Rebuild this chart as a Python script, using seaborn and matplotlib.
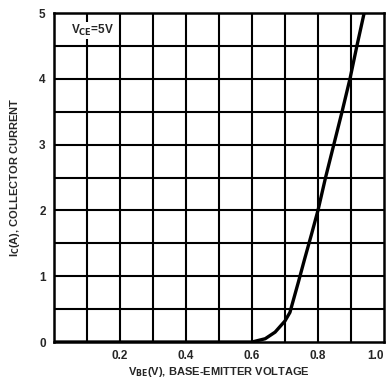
import matplotlib
matplotlib.use("Agg")
import matplotlib.pyplot as plt
import seaborn as sns
import pandas as pd
import numpy as np

# Data
vbe = [0.0, 0.60, 0.64, 0.67, 0.70, 0.715, 0.74, 0.76, 0.78, 0.80, 0.823, 0.848, 0.873, 0.897, 0.918, 0.94]
ic = [0.0, 0.0, 0.05, 0.15, 0.32, 0.45, 0.9, 1.27, 1.63, 2.0, 2.5, 3.0, 3.5, 4.0, 4.5, 5.0]
xticks = [0.2, 0.4, 0.6, 0.8, 1.0]
xticklabels = ["0.2", "0.4", "0.6", "0.8", "1.0"]
yticks = [0, 1, 2, 3, 4, 5]
yticklabels = ["0", "1", "2", "3", "4", "5"]

sns.set_style("white")
plt.rcParams['font.family'] = ['Liberation Sans', 'DejaVu Sans']
plt.rcParams['font.weight'] = 'bold'
plt.rcParams['mathtext.default'] = 'bf'

df = pd.DataFrame({"VBE": vbe, "IC": ic})

fig = plt.figure(figsize=(3.89, 3.83), dpi=100)
ax = fig.add_axes([0.139, 0.107, 0.848, 0.859])

# grid
for gx in np.arange(0.1, 1.0, 0.1):
    ax.axvline(gx, color="black", lw=1.5, zorder=1)
for gy in np.arange(0.5, 5.0, 0.5):
    ax.axhline(gy, color="black", lw=1.5, zorder=1)

sns.lineplot(data=df, x="VBE", y="IC", ax=ax, color="black", lw=2.4, zorder=3)

ax.set_xlim(0, 1.0)
ax.set_ylim(0, 5)
ax.set_xticks(xticks)
ax.set_xticklabels(xticklabels, fontsize=8.5, fontweight="bold")
ax.set_yticks(yticks)
ax.set_yticklabels(yticklabels, fontsize=8.5, fontweight="bold")
ax.tick_params(axis="x", length=0, pad=6)
ax.tick_params(axis="y", length=0, pad=6)
for lab in ax.get_xticklabels()[-1:]:
    lab.set_ha("right")
for s in ax.spines.values():
    s.set_color("black")
    s.set_linewidth(1.8)

ax.set_xlabel("V$_{BE}$(V), BASE-EMITTER VOLTAGE", fontsize=8, fontweight="bold", labelpad=2)
ax.set_ylabel("I$_{C}$(A), COLLECTOR CURRENT", fontsize=8, fontweight="bold", labelpad=12)

ax.text(0.05, 4.85, "V$_{CE}$=5V", fontsize=8.5, fontweight="bold", va="top", ha="left",
        bbox=dict(facecolor="white", edgecolor="none", pad=0.5), zorder=4)

fig.savefig("out.png", dpi=100, facecolor="white")
